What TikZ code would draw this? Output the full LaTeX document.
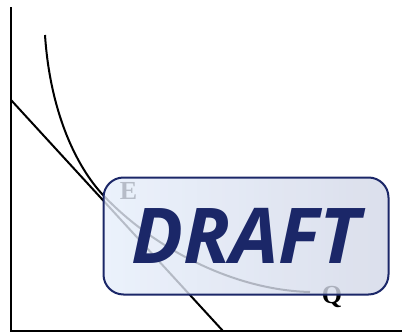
\documentclass[tikz,border=0pt]{standalone}
\usepackage{fontspec}
\usepackage{tikz}
\newfontfamily\draftfont{Open Sans}
\newfontfamily\lblfont{Liberation Serif}
\definecolor{navy}{HTML}{1B2768}
\definecolor{boxl}{HTML}{E6EEFB}
\definecolor{boxr}{HTML}{D2D7E7}
\tikzset{
  curve/.style={line width=2pt,black},
  lbl/.style={font=\lblfont\bfseries\fontsize{26}{26}\selectfont},
}

\begin{document}
\begin{tikzpicture}[x=1pt,y=-1pt]
  \useasboundingbox (0,0) rectangle (402,332);
  \draw[line width=2.4pt] (11,7) -- (11,331) -- (402,331);
  \draw[curve] (11,100) -- (223,331);
  \draw[curve] (45,35) .. controls (50,110) and (75,165) .. (103,195)
    .. controls (150,245) and (230,290) .. (310,292);
  \node[lbl] (e) at (128.5,191) {E};
  \node[lbl] (q) at (332,297) {Q};
  \node[draw=navy,line width=2pt,rounded corners=20pt,left color=boxl,right color=boxr,
    fill opacity=0.8,text opacity=1,minimum width=285pt,minimum height=117pt,
    text=navy,font=\draftfont\bfseries\itshape\fontsize{77}{77}\selectfont] (draft) at (246,236) {DRAFT};
\end{tikzpicture}
\end{document}
